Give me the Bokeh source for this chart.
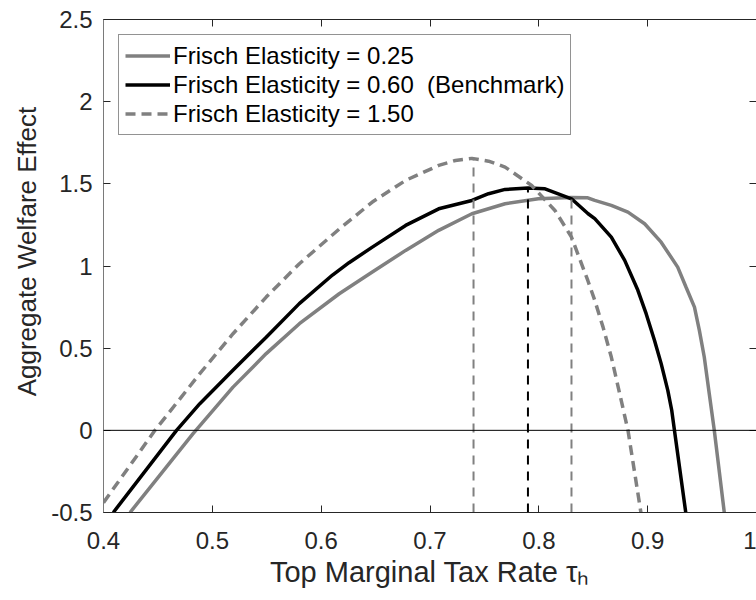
from bokeh.plotting import figure
from bokeh.models import Legend, LegendItem, Span, LinearAxis, FixedTicker, Range1d
from bokeh.embed import file_html
from bokeh.resources import INLINE

# ---- data ----
x_low = [0.4244, 0.4823, 0.519, 0.5495, 0.58, 0.6166, 0.647, 0.6776, 0.708,
         0.7385, 0.769, 0.7995, 0.83, 0.845, 0.8514, 0.8666, 0.8819, 0.8972, 0.9124,
         0.9276, 0.9352, 0.943, 0.9475, 0.952, 0.9566, 0.9612, 0.9704]
y_low = [-0.5, -0.02, 0.263, 0.467, 0.649, 0.831, 0.963, 1.095, 1.217,
         1.318, 1.379, 1.409, 1.417, 1.415, 1.399, 1.369, 1.328, 1.257, 1.145,
         0.993, 0.872, 0.75, 0.608, 0.446, 0.223, 0.0, -0.5]

x_bench = [0.409, 0.4671, 0.4885, 0.5189, 0.5495, 0.5799, 0.6104, 0.6256, 0.647, 0.6776,
           0.708, 0.7385, 0.7538, 0.769, 0.79, 0.8057, 0.83, 0.8453, 0.8514, 0.8666,
           0.8789, 0.891, 0.8986, 0.9063, 0.9124, 0.9185, 0.9221, 0.9246, 0.935]
y_bench = [-0.5, 0.0, 0.162, 0.365, 0.567, 0.771, 0.945, 1.02, 1.115, 1.247,
           1.348, 1.399, 1.44, 1.466, 1.474, 1.47, 1.409, 1.318, 1.288, 1.176,
           1.034, 0.852, 0.71, 0.547, 0.406, 0.243, 0.122, 0.0, -0.5]

x_high = [0.4, 0.4473, 0.4885, 0.519, 0.5495, 0.58, 0.6166, 0.647, 0.6776, 0.708,
          0.7233, 0.7385, 0.7538, 0.769, 0.7934, 0.8148, 0.83, 0.845, 0.8514, 0.859,
          0.8666, 0.8743, 0.8819, 0.8938]
y_high = [-0.44, 0.0, 0.345, 0.588, 0.811, 1.014, 1.225, 1.389, 1.521, 1.612,
          1.642, 1.655, 1.638, 1.602, 1.49, 1.338, 1.176, 0.912, 0.791, 0.628,
          0.446, 0.223, 0.0, -0.5]

opt_x = [0.74, 0.79, 0.83]
opt_top = [1.655, 1.474, 1.417]
opt_colors = ["#808080", "#000000", "#808080"]

labels = ["Frisch Elasticity = 0.25",
          "Frisch Elasticity = 0.60\u00a0\u00a0(Benchmark)",
          "Frisch Elasticity = 1.50"]

x_ticks = [0.4, 0.5, 0.6, 0.7, 0.8, 0.9, 1.0]
x_tick_labels = ["0.4", "0.5", "0.6", "0.7", "0.8", "0.9", "1"]
y_ticks = [-0.5, 0.0, 0.5, 1.0, 1.5, 2.0, 2.5]
y_tick_labels = ["-0.5", "0", "0.5", "1", "1.5", "2", "2.5"]

FONT = "Liberation Sans"
AX = "#262626"
GRAY = "#808080"

p = figure(width=756, height=600, x_range=Range1d(0.4, 1.0), y_range=Range1d(-0.5, 2.5),
           output_backend="svg", toolbar_location=None,
           min_border_left=103, min_border_right=0, min_border_top=19, min_border_bottom=88)
p.grid.visible = False
p.outline_line_color = None
p.background_fill_color = "white"
p.border_fill_color = "white"

bottom_axis = p.below[0]
left_axis = p.left[0]
top_axis = LinearAxis()
right_axis = LinearAxis()
p.add_layout(top_axis, "above")
p.add_layout(right_axis, "right")

for ax in [bottom_axis, left_axis, top_axis, right_axis]:
    ax.major_tick_in = 7
    ax.major_tick_out = 0
    ax.minor_tick_line_color = None
    ax.major_tick_line_color = AX
    ax.major_tick_line_width = 1
    ax.axis_line_color = AX
    ax.axis_line_width = 1
    ax.major_label_text_font = FONT
    ax.major_label_text_font_size = "24px"
    ax.major_label_text_color = AX

left_axis.axis_line_color = "#7a7a7a"
right_axis.axis_line_color = None

bottom_axis.ticker = FixedTicker(ticks=x_ticks)
top_axis.ticker = FixedTicker(ticks=x_ticks)
left_axis.ticker = FixedTicker(ticks=y_ticks)
right_axis.ticker = FixedTicker(ticks=y_ticks)
bottom_axis.major_label_overrides = dict(zip(x_ticks, x_tick_labels))
left_axis.major_label_overrides = dict(zip(y_ticks, y_tick_labels))
top_axis.major_label_overrides = {t: "" for t in x_ticks}
right_axis.major_label_overrides = {t: "" for t in y_ticks}
top_axis.major_label_standoff = 0
right_axis.major_label_standoff = 0

bottom_axis.major_label_standoff = 19
left_axis.major_label_standoff = 11

left_axis.axis_label = "\u00a0\u00a0\u00a0\u00a0Aggregate Welfare Effect"
left_axis.axis_label_text_font = FONT
left_axis.axis_label_text_font_size = "26px"
left_axis.axis_label_text_font_style = "normal"
left_axis.axis_label_text_color = AX
left_axis.axis_label_standoff = 6

bottom_axis.axis_label = "Top Marginal Tax Rate τₕ"
bottom_axis.axis_label_text_font = FONT
bottom_axis.axis_label_text_font_size = "29px"
bottom_axis.axis_label_text_font_style = "normal"
bottom_axis.axis_label_text_color = AX
bottom_axis.axis_label_standoff = 4

# zero line
p.add_layout(Span(location=0, dimension="width", line_color="black", line_width=1))

r_low = p.line(x_low, y_low, line_color=GRAY, line_width=3.5)
r_bench = p.line(x_bench, y_bench, line_color="black", line_width=3.5)
r_high = p.line(x_high, y_high, line_color=GRAY, line_width=3.5, line_dash="10 6")

p.segment(x0=opt_x, y0=[y_ticks[0]] * len(opt_x), x1=opt_x, y1=opt_top,
          line_color=opt_colors, line_width=2, line_dash="9 7")

legend = Legend(items=[LegendItem(label=labels[0], renderers=[r_low]),
                       LegendItem(label=labels[1], renderers=[r_bench]),
                       LegendItem(label=labels[2], renderers=[r_high])],
                location="top_left")
legend.margin = 15
legend.padding = 6
legend.spacing = 0
legend.glyph_width = 45
legend.glyph_height = 29
legend.label_height = 29
legend.label_standoff = 3
legend.label_text_font = FONT
legend.label_text_font_size = "24px"
legend.label_text_color = "black"
legend.border_line_color = AX
legend.border_line_width = 1
legend.background_fill_alpha = 1
p.add_layout(legend, "center")

open("out.html", "w").write(file_html(p, INLINE))
